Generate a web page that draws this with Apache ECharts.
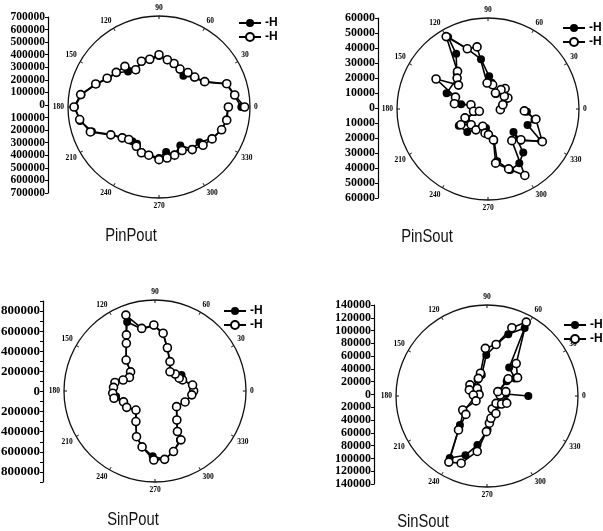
<!DOCTYPE html>
<html><head><meta charset="utf-8">
<script src="https://cdn.jsdelivr.net/npm/echarts@6/dist/echarts.min.js"></script>
<style>html,body{margin:0;padding:0;background:#fff}#c{width:603px;height:531px}</style>
</head><body><div id="c"></div>
<script>
// ---- data: [radius, angle(deg)] ----
const panelTitles = ['PinPout', 'PinSout', 'SinPout', 'SinSout'];
const seriesNames = ['-H', '-H '];
const angleTicks = [0, 30, 60, 90, 120, 150, 180, 210, 240, 270, 300, 330];

const pinPoutFilled = [[655000,0],[605000,9],[565000,19],[410000,29],[365000,40],[315000,52],[340000,61],[362000,71],[378000,80],[405000,90],[383000,101],[386000,111],[345000,122],[375000,131],[432000,141],[468000,151],[530000,160],[625000,171],[670000,180],[637000,190],[568000,200],[440000,210],[378000,220],[345000,232],[340000,239],[385000,249],[388000,258],[405000,270],[362000,279],[398000,288],[350000,299],[425000,308],[427000,319],[488000,329],[531000,340],[545000,349],[548000,0]];
const pinPoutOpen = [[681000,0],[610000,9],[570000,19],[416000,29],[371000,40],[358000,50],[345000,61],[366000,71],[382000,80],[416000,90],[387000,101],[390000,111],[350000,122],[422000,130],[438000,141],[472000,151],[536000,160],[631000,171],[676000,180],[639000,189],[581000,200],[443000,210],[382000,220],[353000,227],[361000,240],[390000,249],[392000,258],[419000,270],[411000,279],[403000,288],[392000,298],[430000,308],[464000,319],[493000,329],[530000,340],[549000,349],[552000,0]];

const pinSoutFilled = [[8900,0],[11100,18],[14800,28],[14800,41],[16600,53],[11600,62],[18000,82],[22300,88],[34300,98],[43400,109],[56100,119],[43400,120],[32500,131],[29800,135],[30200,159],[23600,160],[18600,170],[11800,168],[9500,192],[16600,206],[23000,210],[21100,228],[16400,240],[13000,264],[17500,271],[22000,281],[36100,280],[44300,290],[42700,300],[38200,309],[23400,318],[31100,316],[42300,329],[29100,338],[32500,347],[26600,356]];
const pinSoutOpen = [[8400,357],[10500,16],[15500,29],[14100,38],[18200,50],[15900,56],[12000,65],[16800,79],[17700,92],[43000,100],[43400,109],[57000,120],[33000,129],[29800,135],[25900,141],[40900,150],[23600,160],[23200,171],[12000,166],[10000,189],[6100,195],[16800,201],[21400,210],[15700,223],[16400,240],[12300,253],[16600,263],[17500,271],[21400,280],[37300,278],[43200,289],[51800,299],[27000,307],[30700,317],[43200,329],[33400,348],[24800,357]];

const sinPoutFilled = [[380000,0],[375000,9],[292000,22],[308000,31],[262000,40],[245000,52],[325000,63],[443000,74],[575000,82],[650000,91],[630000,102],[739000,112],[626000,117],[553000,121],[421000,133],[308000,142],[288000,152],[335000,161],[407000,168],[414000,175],[390000,188],[331000,199],[325000,210],[268000,225],[358000,238],[490000,248],[570000,257],[650000,268],[686000,278],[629000,287],[546000,297],[460000,299],[361000,307],[265000,324],[318000,340],[368000,354]];
const sinPoutOpen = [[384000,0],[378000,9],[295000,22],[272000,28],[262000,40],[242000,52],[328000,63],[447000,74],[580000,82],[656000,91],[636000,102],[808000,111],[626000,117],[553000,121],[421000,133],[308000,142],[288000,152],[335000,161],[407000,168],[414000,175],[421000,183],[414000,190],[331000,199],[325000,210],[268000,225],[358000,238],[490000,248],[570000,257],[686000,269],[686000,278],[629000,287],[550000,298],[460000,299],[361000,307],[265000,324],[318000,340],[368000,354]];

const sinSoutFilled = [[64600,0],[29700,6],[18800,18],[38600,37],[51600,32],[56300,52],[121400,61],[102100,71],[80800,80],[64100,91],[33900,104],[29200,120],[26600,153],[15100,153],[18800,183],[44300,214],[62000,227],[113100,239],[98500,250],[78200,259],[53100,271],[40600,277],[24000,294],[21400,319],[30700,343]];
const sinSoutOpen = [[20300,4],[30200,13],[18200,22],[42700,39],[55700,31],[68200,48],[130800,62],[113600,70],[81800,80],[74500,92],[37000,106],[30700,116],[19300,142],[31800,147],[29200,161],[12500,170],[21400,176],[18800,204],[43800,210],[43800,221],[69300,230],[119300,240],[112500,249],[88000,260],[55700,269],[42700,275],[35400,280],[21900,292],[30700,297],[18200,321],[26000,331],[32800,340]];

const filledSets = [pinPoutFilled, pinSoutFilled, sinPoutFilled, sinSoutFilled];
const openSets = [pinPoutOpen, pinSoutOpen, sinPoutOpen, sinSoutOpen];
const leftAxisMax = [700000, 60000, 900000, 140000];
const leftAxisStep = [100000, 10000, 100000, 20000];
const leftLabelStep = [100000, 10000, 200000, 20000];
const radiusMax = [724000, 62045, 904400, 142200];

// ---- layout (not data) ----
const polarCenters = [[159,107],[488,109],[155,391],[487,396]];
const polarRadius = [91, 91, 91, 91];
const gridBoxes = [{left:48, top:17, height:176},{left:378, top:18, height:180},{left:42, top:301, height:181},{left:374, top:305, height:179}];
const labelSizes = [11.5, 12, 13, 12];
const legendPos = [[233,12],[557,17],[218,300],[558,314]];
const titlePos = [[131,236],[427,237],[133,520],[423,522]];

const chart = echarts.init(document.getElementById('c'));
const serif = '"Liberation Serif", "Times New Roman", serif';
const option = {
  animation: false,
  backgroundColor: '#fff',
  polar: polarCenters.map((c, i) => ({ center: c, radius: polarRadius[i] })),
  angleAxis: polarCenters.map((c, i) => ({
    polarIndex: i, type: 'value', min: 0, max: 360, interval: 30,
    startAngle: 0, clockwise: false,
    axisLine: { show: true, lineStyle: { color: '#111', width: 1.3 } },
    axisTick: { show: true, inside: true, length: 3, lineStyle: { color: '#111' } },
    splitLine: { show: false },
    axisLabel: { margin: 4, fontSize: 7.5, fontFamily: serif, fontWeight: 'bold', color: '#000',
      formatter: v => (angleTicks.indexOf(v) >= 0 ? String(v) : '') }
  })),
  radiusAxis: polarCenters.map((c, i) => ({ polarIndex: i, type: 'value', min: 0, max: radiusMax[i], show: false })),
  grid: gridBoxes.map(g => ({ left: g.left, top: g.top, height: g.height, width: 1 })),
  xAxis: gridBoxes.map((g, i) => ({ gridIndex: i, type: 'value', show: false, min: 0, max: 1 })),
  yAxis: gridBoxes.map((g, i) => ({
    gridIndex: i, type: 'value', min: -leftAxisMax[i], max: leftAxisMax[i], interval: leftAxisStep[i],
    axisLine: { show: true, lineStyle: { color: '#000', width: 1.2 } },
    axisTick: { show: true, length: 3, lineStyle: { color: '#000' } },
    splitLine: { show: false },
    axisLabel: { margin: 3, fontSize: labelSizes[i], fontFamily: serif, fontWeight: 'bold', color: '#000',
      formatter: v => (Math.abs(v) % leftLabelStep[i] === 0 ? String(Math.abs(v)) : '') }
  })),
  legend: legendPos.map(p => ({
    left: p[0], top: p[1], orient: 'vertical', data: seriesNames, itemWidth: 22, itemHeight: 10, itemGap: 2,
    selectedMode: false,
    textStyle: { fontSize: 12, fontFamily: '"Liberation Sans", Arial, sans-serif', fontWeight: 'bold', color: '#000', padding: [0,0,0,-1] }
  })),
  graphic: titlePos.map((p, i) => ({
    type: 'text', x: p[0], y: p[1], scaleX: 0.82, scaleY: 1,
    style: { text: panelTitles[i], fill: '#111', font: '18px "Liberation Sans", Arial, sans-serif',
      textAlign: 'center', textVerticalAlign: 'middle', align: 'center', verticalAlign: 'middle' }
  })),
  series: []
};
for (let i = 0; i < 4; i++) {
  option.series.push({
    type: 'line', name: seriesNames[0], coordinateSystem: 'polar', polarIndex: i, data: filledSets[i],
    symbol: 'circle', symbolSize: 8, lineStyle: { color: '#000', width: 1.6 },
    itemStyle: { color: '#000' }, z: 2
  });
  option.series.push({
    type: 'line', name: seriesNames[1], coordinateSystem: 'polar', polarIndex: i, data: openSets[i],
    symbol: 'circle', symbolSize: 8, lineStyle: { color: '#000', width: 1.6 },
    itemStyle: { color: '#fff', borderColor: '#000', borderWidth: 1.6 }, z: 3
  });
}
chart.setOption(option);
</script></body></html>
